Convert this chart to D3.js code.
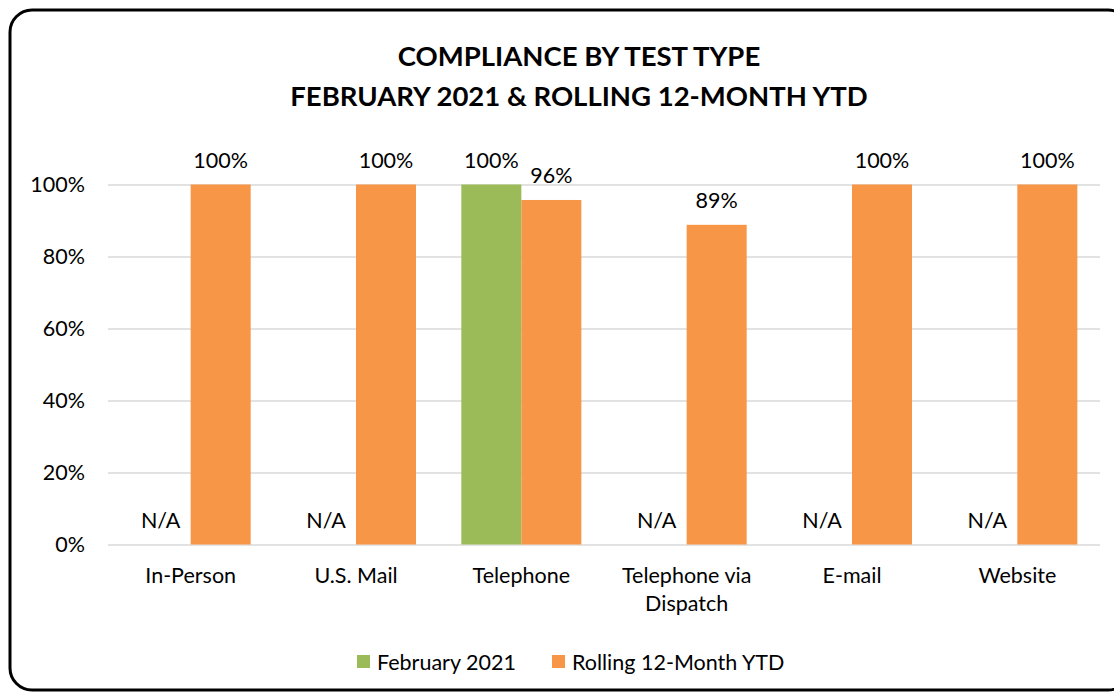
<!DOCTYPE html>
<html><head><meta charset="utf-8">
<script src="https://cdn.jsdelivr.net/npm/d3@7"></script>
<style>html,body{margin:0;padding:0;background:#fff;}svg{display:block;font-family:Lato,"Open Sans",sans-serif;}</style>
</head><body><svg id="c" width="1114" height="693"></svg>
<script>
const categories = ["In-Person","U.S. Mail","Telephone","Telephone via Dispatch","E-mail","Website"];
const seriesNames = ["February 2021","Rolling 12-Month YTD"];
const feb2021 = [null,null,1.00,null,null,null];
const rolling12 = [1.00,1.00,0.957,0.888,1.00,1.00];
const rollingLabels = ["100%","100%","96%","89%","100%","100%"];
const febLabels = ["N/A","N/A","100%","N/A","N/A","N/A"];
const yTicks = [0,0.2,0.4,0.6,0.8,1.0];
const colors = ["#9bbb59","#f79646"];
const FS = 21.5;

const svg = d3.select("#c");
svg.append("rect").attr("x",10).attr("y",10).attr("width",1120).attr("height",680)
  .attr("rx",22).attr("fill","#fff").attr("stroke","#000").attr("stroke-width",3);

const title = svg.append("text").attr("text-anchor","middle").attr("font-weight","bold")
  .attr("font-size",27.5).attr("fill","#000");
title.append("tspan").attr("x",579).attr("y",66).text("COMPLIANCE BY TEST TYPE");
title.append("tspan").attr("x",579).attr("y",106).text("FEBRUARY 2021 & ROLLING 12-MONTH YTD");

const x0 = d3.scaleBand().domain(categories).range([108,1100]);
const y = d3.scaleLinear().domain([0,1]).range([544.5,184.5]);
const bw = 60;

const yAxis = svg.append("g").attr("transform","translate(108,0)")
  .call(d3.axisLeft(y).tickValues(yTicks).tickFormat(d3.format(".0%")).tickSize(-992).tickPadding(23));
yAxis.select(".domain").remove();
yAxis.selectAll(".tick line").attr("stroke","#d9d9d9").attr("stroke-width",1.5);
yAxis.selectAll(".tick text").attr("font-size",FS).attr("fill","#000").attr("font-family","Lato,'Open Sans',sans-serif");

const cx = d => x0(d) + x0.bandwidth()/2;

const data = categories.map((c,i)=>({c, f:feb2021[i], r:rolling12[i], fl:febLabels[i], rl:rollingLabels[i]}));
svg.selectAll(".bf").data(data.filter(d=>d.f!=null)).join("rect")
  .attr("x",d=>cx(d.c)-bw).attr("width",bw).attr("y",d=>y(d.f)).attr("height",d=>y(0)-y(d.f)).attr("fill",colors[0]);
svg.selectAll(".br").data(data).join("rect")
  .attr("x",d=>cx(d.c)).attr("width",bw).attr("y",d=>y(d.r)).attr("height",d=>y(0)-y(d.r)).attr("fill",colors[1]);

svg.selectAll(".lf").data(data).join("text")
  .attr("x",d=>cx(d.c)-bw/2).attr("y",d=>d.f!=null? y(d.f)-17 : y(0)-17)
  .attr("text-anchor","middle").attr("font-size",FS).attr("fill","#000").text(d=>d.fl);
svg.selectAll(".lr").data(data).join("text")
  .attr("x",d=>cx(d.c)+bw/2).attr("y",d=>y(d.r)-17)
  .attr("text-anchor","middle").attr("font-size",FS).attr("fill","#000").text(d=>d.rl);

const xAxis = svg.append("g").attr("transform","translate(0,544.5)")
  .call(d3.axisBottom(x0).tickSize(0).tickPadding(0));
xAxis.select(".domain").remove();
xAxis.selectAll(".tick text").remove();
xAxis.selectAll(".tick").each(function(d){
  const g = d3.select(this);
  const words = d === "Telephone via Dispatch" ? ["Telephone via","Dispatch"] : [d];
  words.forEach((w,i)=>g.append("text").attr("x",0).attr("y",38.5+i*28).attr("text-anchor","middle")
    .attr("font-size",FS).attr("fill","#000").attr("font-family","Lato,'Open Sans',sans-serif").text(w));
});

const legX = [357,552];
seriesNames.forEach((n,i)=>{
  svg.append("rect").attr("x",legX[i]).attr("y",655).attr("width",13).attr("height",13).attr("fill",colors[i]);
  svg.append("text").attr("x",legX[i]+20).attr("y",669.5).attr("font-size",FS).attr("fill","#000").text(n);
});
</script></body></html>
